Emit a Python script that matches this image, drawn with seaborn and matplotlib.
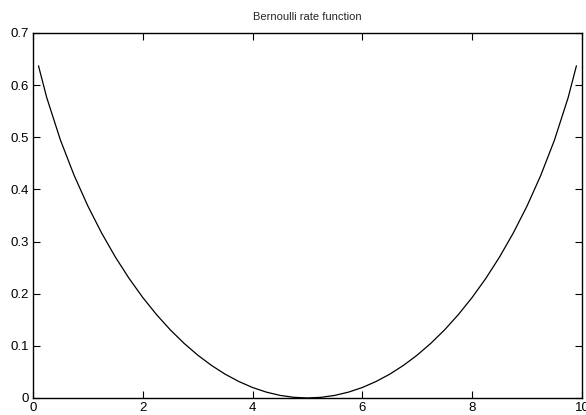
import numpy as np
import pandas as pd
import matplotlib
matplotlib.use('Agg')
import matplotlib.pyplot as plt
import seaborn as sns

sns.set_style("ticks")
plt.rcParams['font.family'] = ['Liberation Sans', 'DejaVu Sans']

# values (left half, x = 0.1 .. 5)
x_left = [0.1, 0.25, 0.5, 0.75, 1.0, 1.25, 1.5, 1.75, 2.0, 2.25, 2.5,
          2.75, 3.0, 3.25, 3.5, 3.75, 4.0, 4.25, 4.5, 4.75, 5.0]
y_left = [0.6371, 0.5762, 0.4946, 0.4268, 0.3681, 0.3164, 0.2704, 0.2294,
          0.1927, 0.1600, 0.1308, 0.1050, 0.0823, 0.0626, 0.0457, 0.0316,
          0.0201, 0.0113, 0.0050, 0.0013, 0.0]
# right half, x = 5.25 .. 9.9
x_right = [5.25, 5.5, 5.75, 6.0, 6.25, 6.5, 6.75, 7.0, 7.25, 7.5, 7.75,
           8.0, 8.25, 8.5, 8.75, 9.0, 9.25, 9.5, 9.75, 9.9]
y_right = [0.0013, 0.0050, 0.0113, 0.0201, 0.0316, 0.0457, 0.0626, 0.0823,
           0.1050, 0.1308, 0.1600, 0.1927, 0.2294, 0.2704, 0.3164, 0.3681,
           0.4268, 0.4946, 0.5762, 0.6371]

xticks = [0, 2, 4, 6, 8, 10]
yticks = [0, 0.1, 0.2, 0.3, 0.4, 0.5, 0.6, 0.7]
yticklabels = ['0', '0.1', '0.2', '0.3', '0.4', '0.5', '0.6', '0.7']

df = pd.DataFrame({'x': x_left + x_right, 'y': y_left + y_right})

fig = plt.figure(figsize=(5.86, 4.15), dpi=100)
ax = fig.add_axes([0.0563, 0.041, 0.9367, 0.8795])
sns.lineplot(data=df, x='x', y='y', ax=ax, color='black', linewidth=0.9)

ax.set_xlim(0, 10)
ax.set_ylim(0, 0.7)
ax.set_xticks(xticks)
ax.set_xticklabels([str(t) for t in xticks])
ax.set_yticks(yticks)
ax.set_yticklabels(yticklabels)
ax.set_xlabel('')
ax.set_ylabel('')
ax.tick_params(direction='in', length=5, width=0.8, labelsize=9.5,
               top=True, right=True, colors='black', pad=3)
for s in ax.spines.values():
    s.set_linewidth(1.0)
    s.set_color('black')
ax.set_title('Bernoulli rate function', fontsize=8, pad=9)

fig.savefig('out.png', dpi=100)
